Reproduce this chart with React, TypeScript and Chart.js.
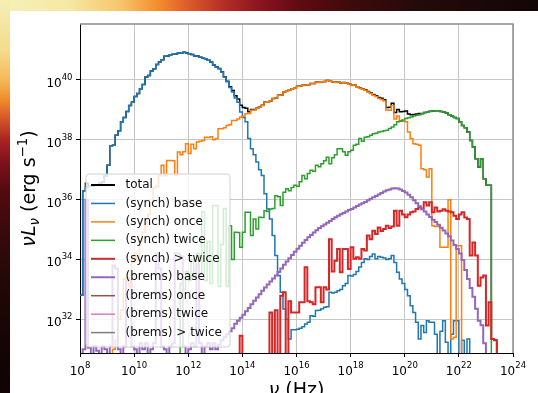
import React, { useEffect, useRef } from "react";
import { Chart, registerables } from "chart.js";

Chart.register(...registerables);

// ---- histogram bins: log10(nu / Hz) edges ----
const binStartExp = 8;
const binWidthDex = 0.1;
const binCount = 160;

// ---- axes ----
const xTickExponents = [8, 10, 12, 14, 16, 18, 20, 22, 24];
const yTickExponents = [32, 34, 36, 38, 40];
const xRangeExp = [8, 24];
const yRangeExp = [30.873, 41.872];

// ---- series values: log10(nu L_nu / erg s^-1) per bin, null = empty bin ----
const synchBaseExp = [
  32.8, 36.3, 36.4, 36.45, 36.45, 36.5, 36.5, 36.55, 36.6, 36.8,
  37.15, 37.8, 37.82, 38.15, 38.3, 38.6, 38.75, 38.95, 39.15, 39.26,
  39.45, 39.55, 39.71, 39.85, 40.1, 40.15, 40.3, 40.38, 40.52, 40.6,
  40.68, 40.79, 40.8, 40.84, 40.86, 40.87, 40.9, 40.89, 40.93, 40.9,
  40.88, 40.85, 40.8, 40.8, 40.76, 40.73, 40.71, 40.66, 40.6, 40.5,
  40.43, 40.38, 40.27, 40.1, 39.94, 39.75, 39.6, 39.4, 39.26, 38.93,
  38.75, 38.6, 38.04, 37.7, 37.5, 37.26, 37.0, 36.81, 36.2, 35.69,
  35.35, 34.8, 34.13, 33.46, 32.9, 32.34, 32.0, 31.34, 31.65, 31.65,
  31.67, 31.7, 31.75, 31.84, 31.9, 32.12, 32.1, 32.29, 32.3, 32.35,
  32.4, 32.42, 32.9, 32.88, 32.9, 32.95, 33.0, 33.12, 33.2, 33.46,
  33.45, 33.5, 33.6, 33.75, 33.9, 34.02, 34.0, 34.1, 34.18, 34.02,
  34.1, 34.07, 34.05, 34.0, 34.02, 34.13, 33.9, 33.57, 33.35, 33.2,
  33.0, 32.79, 32.45, 32.23, 31.9, 31.34, 31.79, 31.56, 31.95, 31.9,
  31.9, 31.5, null, 31.6, 31.95, 31.23, null, 31.5, 31.95, 31.95,
  null, 31.3, null, 31.34, null, null, null, null, null, null,
  null, null, null, null, null, null, null, null, null, null,
];

const synchOnceExp = [
  null, null, null, null, null, null, null, null, null, null,
  null, null, 31.0, 31.3, 32.0, 32.3, 33.35, 33.4, 33.1, 33.9,
  34.2, 34.0, 34.6, 34.9, 35.2, 35.5, 35.9, 36.4, 36.45, 36.81,
  37.15, 36.8, 37.31, 37.31, 37.3, 36.81, 37.59, 37.5, 37.6, 37.87,
  37.54, 37.85, 37.7, 37.93, 37.95, 37.98, 38.09, 38.08, 38.1, 38.0,
  38.04, 38.37, 38.37, 38.4, 38.48, 38.5, 38.65, 38.65, 38.7, 38.76,
  38.8, 38.87, 38.88, 38.99, 39.0, 39.05, 39.1, 39.15, 39.26, 39.27,
  39.3, 39.38, 39.4, 39.49, 39.5, 39.6, 39.62, 39.67, 39.71, 39.72,
  39.79, 39.8, 39.82, 39.83, 39.84, 39.88, 39.88, 39.93, 39.92, 39.94,
  39.95, 39.98, 39.96, 39.93, 39.92, 39.93, 39.9, 39.91, 39.9, 39.87,
  39.82, 39.83, 39.77, 39.72, 39.7, 39.66, 39.6, 39.55, 39.49, 39.45,
  39.38, 39.35, 39.3, 39.0, 38.99, 39.15, 38.7, 38.8, 38.65, 38.62,
  38.6, 38.26, 38.04, 37.87, 37.85, 37.82, 37.03, 37.0, 36.76, 37.03,
  35.13, 35.1, 35.1, 34.41, 34.41, 34.41, 36.0, 31.34, 31.4, 34.46,
  34.46, null, null, null, null, null, null, null, null, null,
  null, null, null, null, null, null, null, null, null, null,
];

const synchTwiceExp = [
  null, null, null, null, null, null, null, null, null, null,
  null, null, null, null, null, null, null, null, null, null,
  null, null, null, null, null, null, null, null, null, null,
  null, null, null, null, null, null, null, 33.2, 33.0, 33.6,
  33.3, 34.0, 33.4, 34.2, 33.5, 35.6, 33.3, 34.6, 33.2, 35.8,
  35.8, 33.1, 34.5, 35.7, 33.1, 35.13, 34.0, 34.91, 34.9, 34.41,
  34.91, 35.58, 35.58, 34.8, 35.35, 35.02, 35.41, 35.4, 35.63, 35.6,
  35.69, 35.7, 36.13, 36.1, 35.8, 36.25, 36.36, 36.3, 36.41, 36.48,
  36.45, 36.6, 36.81, 36.7, 36.87, 36.98, 36.95, 37.15, 37.1, 37.2,
  37.3, 37.42, 37.2, 37.4, 37.5, 37.7, 37.7, 37.6, 37.48, 37.6,
  37.65, 37.82, 37.85, 38.04, 37.95, 38.09, 38.1, 38.15, 38.2, 38.22,
  38.26, 38.28, 38.3, 38.32, 38.38, 38.43, 38.5, 38.6, 38.62, 38.66,
  38.71, 38.74, 38.76, 38.8, 38.82, 38.84, 38.87, 38.91, 38.92, 38.95,
  38.96, 38.97, 38.97, 38.95, 38.93, 38.9, 38.84, 38.8, 38.75, 38.71,
  38.6, 38.48, 38.4, 38.26, 37.98, 37.76, 37.37, 37.09, 37.37, 36.7,
  36.48, 36.48, null, null, null, null, null, null, null, null,
];

const synchGtTwiceExp = [
  null, null, null, null, null, null, null, null, null, null,
  null, null, null, null, null, null, null, null, null, null,
  null, null, null, null, null, null, null, null, null, null,
  null, null, null, null, null, null, null, null, null, null,
  null, null, null, null, null, null, null, null, null, null,
  null, null, null, null, null, null, null, null, null, 31.45,
  null, null, null, null, null, null, null, null, null, null,
  32.23, null, 32.3, null, 32.79, 32.9, null, 32.6, 32.23, 32.23,
  32.23, 32.57, 32.57, 33.74, 32.6, 32.57, 32.5, 33.07, 33.07, 32.57,
  33.07, 33.0, 34.68, 33.6, 33.96, 34.35, 33.57, 34.35, 34.35, 33.68,
  34.41, 34.02, 34.07, 34.02, 34.35, 34.3, 34.8, 34.68, 34.96, 34.85,
  35.07, 34.95, 35.02, 35.13, 35.05, 35.1, 35.63, 35.13, 35.63, 35.5,
  35.41, 35.5, 35.58, 35.6, 35.69, 35.74, 35.7, 35.91, 35.8, 35.91,
  35.58, 35.74, 35.6, 35.63, 35.68, 35.63, 35.6, 35.58, 35.46, 35.35,
  35.5, 35.58, 35.4, 35.35, 34.13, 34.57, 34.13, 33.12, 33.4, 33.46,
  31.79, 32.57, 31.34, 31.3, null, null, null, null, null, null,
];

const bremsBaseExp = [
  null, 31.0, 36.0, 31.05, null, 31.1, 30.95, null, 31.1, 31.0,
  null, 31.1, 33.8, 33.7, 31.0, null, 31.1, 33.3, 33.3, 31.1,
  31.0, null, 31.2, 31.0, 31.2, null, 31.0, 31.2, 34.2, 33.7,
  31.1, 31.0, null, 31.1, 31.2, 34.2, 34.2, 34.1, 31.1, null,
  31.0, 31.2, 31.1, 33.8, 31.2, null, 31.1, 31.2, 31.0, 31.2,
  31.0, 31.15, 31.3, 31.4, 31.5, 31.6, 31.7, 31.85, 31.95, 32.05,
  32.15, 32.27, 32.38, 32.5, 32.62, 32.73, 32.84, 32.95, 33.06, 33.16,
  33.26, 33.36, 33.46, 33.58, 33.7, 33.82, 33.93, 34.04, 34.15, 34.26,
  34.36, 34.46, 34.56, 34.65, 34.74, 34.82, 34.9, 34.98, 35.05, 35.11,
  35.17, 35.23, 35.29, 35.35, 35.41, 35.46, 35.51, 35.55, 35.6, 35.65,
  35.69, 35.74, 35.79, 35.84, 35.88, 35.92, 35.98, 36.03, 36.08, 36.12,
  36.17, 36.22, 36.27, 36.31, 36.34, 36.37, 36.38, 36.37, 36.34, 36.29,
  36.24, 36.16, 36.08, 35.98, 35.88, 35.78, 35.68, 35.6, 35.5, 35.42,
  35.33, 35.25, 35.16, 35.06, 34.97, 34.87, 34.78, 34.63, 34.48, 34.35,
  34.2, 33.98, 33.65, 33.35, 33.05, 32.75, 32.35, 31.95, 31.8, 31.2,
  null, null, null, null, null, null, null, null, null, null,
];

// nothing of these falls inside the plotted range
const bremsOnceExp: (number | null)[] = [];
const bremsTwiceExp: (number | null)[] = [];
const bremsGtTwiceExp: (number | null)[] = [];

const componentExps = [
  synchBaseExp, synchOnceExp, synchTwiceExp, synchGtTwiceExp,
  bremsBaseExp, bremsOnceExp, bremsTwiceExp, bremsGtTwiceExp,
];

// total = sum of the components in each bin
const totalExp = Array.from({ length: binCount }, (_, i) => {
  let s = 0;
  for (const c of componentExps) {
    const e = c[i];
    if (e != null) s += Math.pow(10, e);
  }
  return s > 0 ? Math.log10(s) : null;
});

const seriesLabels = [
  "total", "(synch) base", "(synch) once", "(synch) twice", "(synch) > twice",
  "(brems) base", "(brems) once", "(brems) twice", "(brems) > twice",
];
const seriesColors = [
  "#000000", "#1f77b4", "#ff7f0e", "#2ca02c", "#d62728",
  "#9467bd", "#8c564b", "#e377c2", "#7f7f7f",
];
const seriesWidths = [1.5, 1.5, 1.5, 1.5, 2, 2, 1.5, 1.5, 1.5];
const legendWidths = [2, 1.5, 1.5, 1.5, 2, 2, 1.5, 1.5, 1.5];
const seriesExps = [totalExp, ...componentExps];

const FLOOR = 1e29; // empty bins drop below the axis
const edgesExp = Array.from({ length: binCount + 1 }, (_, i) => binStartExp + i * binWidthDex);

function stepPoints(exps: (number | null)[]) {
  if (!exps.length) return [];
  const pts = exps.map((e, i) => ({ x: Math.pow(10, edgesExp[i]), y: e == null ? FLOOR : Math.pow(10, e) }));
  const last = exps[exps.length - 1];
  pts.push({ x: Math.pow(10, edgesExp[exps.length]), y: last == null ? FLOOR : Math.pow(10, last) });
  return pts;
}

const FAM = '"DejaVu Sans", sans-serif';

type Part = { t: string; font: string; dy: number };
function partsWidth(ctx: CanvasRenderingContext2D, parts: Part[]) {
  let w = 0;
  for (const p of parts) { ctx.font = p.font; w += ctx.measureText(p.t).width; }
  return w;
}
function drawParts(ctx: CanvasRenderingContext2D, parts: Part[], x: number, y: number) {
  let cx = x;
  for (const p of parts) {
    ctx.font = p.font;
    ctx.fillText(p.t, cx, y + p.dy);
    cx += ctx.measureText(p.t).width;
  }
}
function powParts(e: number): Part[] {
  return [
    { t: "10", font: `12px ${FAM}`, dy: 0 },
    { t: String(e), font: `8.5px ${FAM}`, dy: -7 },
  ];
}

const decorPlugin = {
  id: "decor",
  afterDraw(chart: any) {
    const ctx: CanvasRenderingContext2D = chart.ctx;
    const a = chart.chartArea;
    const xs = chart.scales.x;
    const ys = chart.scales.y;
    ctx.save();
    // top & right spines
    ctx.strokeStyle = "#8e8e8e";
    ctx.lineWidth = 1.5;
    ctx.beginPath();
    ctx.moveTo(a.left, a.top);
    ctx.lineTo(a.right, a.top);
    ctx.lineTo(a.right, a.bottom);
    ctx.stroke();

    // tick labels
    ctx.fillStyle = "#000";
    ctx.textAlign = "left";
    ctx.textBaseline = "alphabetic";
    for (const e of xTickExponents) {
      const px = xs.getPixelForValue(Math.pow(10, e));
      const parts = powParts(e);
      const w = partsWidth(ctx, parts);
      drawParts(ctx, parts, px - w / 2, a.bottom + 22);
    }
    for (const e of yTickExponents) {
      const py = ys.getPixelForValue(Math.pow(10, e));
      const parts = powParts(e);
      const w = partsWidth(ctx, parts);
      drawParts(ctx, parts, a.left - 7.5 - w, py + 7);
    }

    // axis titles
    const xt: Part[] = [
      { t: "ν", font: `italic 19px ${FAM}`, dy: 0 },
      { t: " (Hz)", font: `19px ${FAM}`, dy: 0 },
    ];
    const xw = partsWidth(ctx, xt);
    drawParts(ctx, xt, (a.left + a.right) / 2 - xw / 2, 396);

    const yt: Part[] = [
      { t: "ν", font: `italic 19px ${FAM}`, dy: 0 },
      { t: "L", font: `italic 19px ${FAM}`, dy: 0 },
      { t: "ν", font: `italic 13.3px ${FAM}`, dy: 4 },
      { t: " (erg s", font: `19px ${FAM}`, dy: 0 },
      { t: "−1", font: `13.3px ${FAM}`, dy: -8 },
      { t: ")", font: `19px ${FAM}`, dy: 0 },
    ];
    const yw = partsWidth(ctx, yt);
    ctx.save();
    ctx.translate(35, (a.top + a.bottom) / 2);
    ctx.rotate(-Math.PI / 2);
    drawParts(ctx, yt, -yw / 2, 0);
    ctx.restore();

    // legend (lower left)
    const bx = a.left + 6, bw = 144, bBottom = a.bottom - 6, bTop = 174;
    const r = 3;
    ctx.beginPath();
    ctx.moveTo(bx + r, bTop);
    ctx.lineTo(bx + bw - r, bTop);
    ctx.quadraticCurveTo(bx + bw, bTop, bx + bw, bTop + r);
    ctx.lineTo(bx + bw, bBottom - r);
    ctx.quadraticCurveTo(bx + bw, bBottom, bx + bw - r, bBottom);
    ctx.lineTo(bx + r, bBottom);
    ctx.quadraticCurveTo(bx, bBottom, bx, bBottom - r);
    ctx.lineTo(bx, bTop + r);
    ctx.quadraticCurveTo(bx, bTop, bx + r, bTop);
    ctx.closePath();
    ctx.fillStyle = "rgba(255,255,255,0.8)";
    ctx.fill();
    ctx.strokeStyle = "rgba(204,204,204,0.9)";
    ctx.lineWidth = 1;
    ctx.stroke();

    ctx.font = `12px ${FAM}`;
    ctx.textBaseline = "middle";
    for (let i = 0; i < seriesLabels.length; i++) {
      const cy = 185 + i * 18.45;
      ctx.strokeStyle = seriesColors[i];
      ctx.lineWidth = legendWidths[i];
      ctx.beginPath();
      ctx.moveTo(bx + 5, cy);
      ctx.lineTo(bx + 29, cy);
      ctx.stroke();
      ctx.fillStyle = "#111";
      ctx.fillText(seriesLabels[i], bx + 39.5, cy);
    }
    ctx.restore();
  },
};

export default function App() {
  const ref = useRef<HTMLCanvasElement | null>(null);

  useEffect(() => {
    document.body.style.margin = "0";
    const canvas = ref.current;
    if (!canvas) return;
    const datasets = seriesLabels.map((label, i) => ({
      label,
      data: stepPoints(seriesExps[i]),
      borderColor: seriesColors[i],
      backgroundColor: seriesColors[i],
      borderWidth: seriesWidths[i],
      stepped: "before" as const,
      pointRadius: 0,
      fill: false,
      clip: 0,
      order: seriesLabels.length - i,
    }));
    const gridOpts = {
      color: "#c6c6c6",
      lineWidth: 1,
      tickColor: "#000",
      tickLength: 4,
      drawTicks: true,
    };
    const chart = new Chart(canvas, {
      type: "line",
      data: { datasets } as any,
      options: {
        responsive: false,
        animation: false,
        devicePixelRatio: 1,
        layout: { padding: { top: 24, right: 25, left: 0, bottom: 0 } },
        plugins: { legend: { display: false }, tooltip: { enabled: false } },
        elements: { point: { radius: 0 } },
        scales: {
          x: {
            type: "logarithmic",
            min: Math.pow(10, xRangeExp[0]),
            max: Math.pow(10, xRangeExp[1]),
            afterBuildTicks: (s: any) => {
              s.ticks = xTickExponents.map((e) => ({ value: Math.pow(10, e) }));
            },
            afterFit: (s: any) => { s.height = 40; },
            ticks: { display: false },
            grid: gridOpts,
            border: { display: true, color: "#000", width: 1 },
          },
          y: {
            type: "logarithmic",
            min: Math.pow(10, yRangeExp[0]),
            max: Math.pow(10, yRangeExp[1]),
            afterBuildTicks: (s: any) => {
              s.ticks = yTickExponents.map((e) => ({ value: Math.pow(10, e) }));
            },
            afterFit: (s: any) => { s.width = 80; },
            ticks: { display: false },
            grid: gridOpts,
            border: { display: true, color: "#000", width: 1 },
          },
        },
      } as any,
      plugins: [decorPlugin],
    });
    return () => chart.destroy();
  }, []);

  return (
    <div style={{ position: "absolute", left: 0, top: 0, width: 538, height: 393, overflow: "hidden", background: "#ffffff" }}>
      <div
        style={{
          position: "absolute", left: 0, top: 0, width: 538, height: 11,
          background:
            "linear-gradient(to right, #f6f0b8 0px, #f5e8a2 70px, #f6c66c 120px, #f48a2a 160px, #e0602a 185px, #b32c26 225px, #8a1420 260px, #600a12 300px, #3e0a0c 350px, #240a0a 420px, #120606 538px)",
        }}
      />
      <div
        style={{
          position: "absolute", left: 0, top: 0, width: 10, height: 393,
          background:
            "linear-gradient(to bottom, #f6eeb6 0px, #f5dc8c 50px, #f6b85a 80px, #f08a2c 100px, #d4522a 120px, #a82424 140px, #7a1018 165px, #560a10 190px, #380a0c 230px, #240808 280px, #160505 340px, #100404 393px)",
        }}
      />
      <canvas ref={ref} width={538} height={393} style={{ position: "absolute", left: 0, top: 0 }} />
    </div>
  );
}
